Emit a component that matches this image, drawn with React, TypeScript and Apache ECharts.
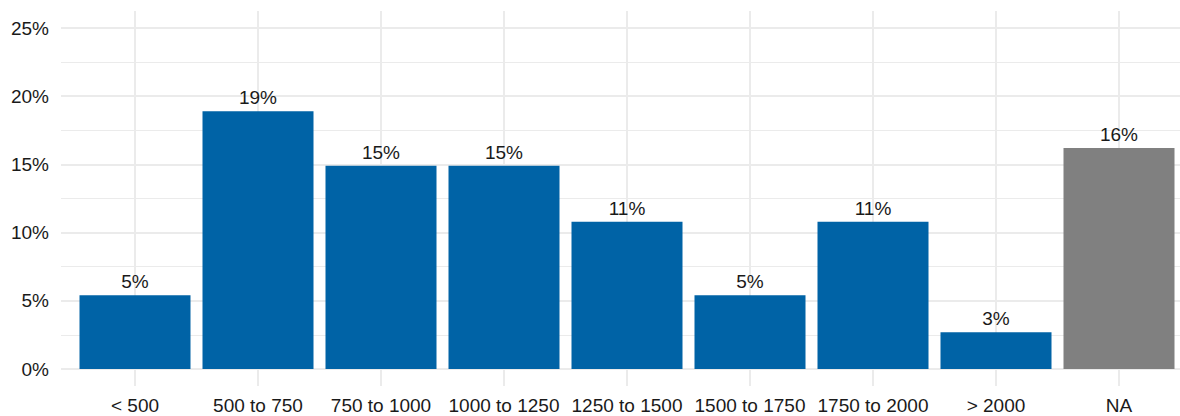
import React, { useEffect, useRef } from "react";
import * as echarts from "echarts";

// Income bands and share of respondents (%)
const categories = [
  "< 500",
  "500 to 750",
  "750 to 1000",
  "1000 to 1250",
  "1250 to 1500",
  "1500 to 1750",
  "1750 to 2000",
  "> 2000",
  "NA",
];
const shares = [5.4, 18.9, 14.9, 14.9, 10.8, 5.4, 10.8, 2.7, 16.2];
const barColors = [
  "#0063A6", "#0063A6", "#0063A6", "#0063A6", "#0063A6",
  "#0063A6", "#0063A6", "#0063A6", "#808080",
];
const yTickMax = 25;
const yTickStep = 5;

const FONT = "'Liberation Sans', Arial, Helvetica, sans-serif";
const GRID_COLOR = "#EBEBEB";

export default function App() {
  const ref = useRef<HTMLDivElement>(null);

  useEffect(() => {
    if (!ref.current) return;
    const chart = echarts.init(ref.current, null, { renderer: "svg" });

    chart.setOption({
      animation: false,
      backgroundColor: "#FFFFFF",
      grid: [
        // value scale with horizontal gridlines
        { left: 61, right: -20, top: 28, bottom: 47, containLabel: false },
        // category band for the bars and vertical gridlines
        { left: 135, width: 984, top: 11, bottom: 30, containLabel: false },
      ],
      xAxis: [
        {
          gridIndex: 0,
          type: "value",
          show: false,
          min: 0,
          max: 1,
        },
        {
          gridIndex: 1,
          type: "category",
          data: categories,
          boundaryGap: false,
          axisLine: { show: false },
          axisTick: { show: false },
          splitLine: {
            show: true,
            interval: 0,
            lineStyle: { color: GRID_COLOR, width: 2 },
          },
          axisLabel: {
            interval: 0,
            margin: 10,
            color: "#1A1A1A",
            fontFamily: FONT,
            fontSize: 19,
          },
        },
      ],
      yAxis: [
        {
          gridIndex: 0,
          type: "value",
          min: 0,
          max: yTickMax,
          interval: yTickStep,
          axisLine: { show: false },
          axisTick: { show: false },
          splitLine: { show: true, lineStyle: { color: GRID_COLOR, width: 2 } },
          minorTick: { show: false, splitNumber: 2 },
          minorSplitLine: { show: true, lineStyle: { color: GRID_COLOR, width: 1 } },
          axisLabel: {
            margin: 12,
            color: "#1A1A1A",
            fontFamily: FONT,
            fontSize: 19,
            formatter: (v: number) => `${v}%`,
          },
        },
        {
          gridIndex: 1,
          type: "value",
          show: false,
          min: -1.25,
          max: 26.25,
          splitLine: { show: false },
        },
      ],
      series: [
        {
          type: "bar",
          xAxisIndex: 1,
          yAxisIndex: 1,
          barWidth: 111,
          data: shares.map((v, i) => ({
            value: v,
            itemStyle: { color: barColors[i] },
          })),
          label: {
            show: true,
            position: "top",
            distance: 4,
            color: "#1A1A1A",
            fontFamily: FONT,
            fontSize: 19,
            formatter: (p: any) => `${Math.round(p.value)}%`,
          },
        },
      ],
    });

    return () => chart.dispose();
  }, []);

  return (
    <div
      ref={ref}
      style={{ width: 1180, height: 416, position: "absolute", left: 0, top: 0 }}
    />
  );
}
